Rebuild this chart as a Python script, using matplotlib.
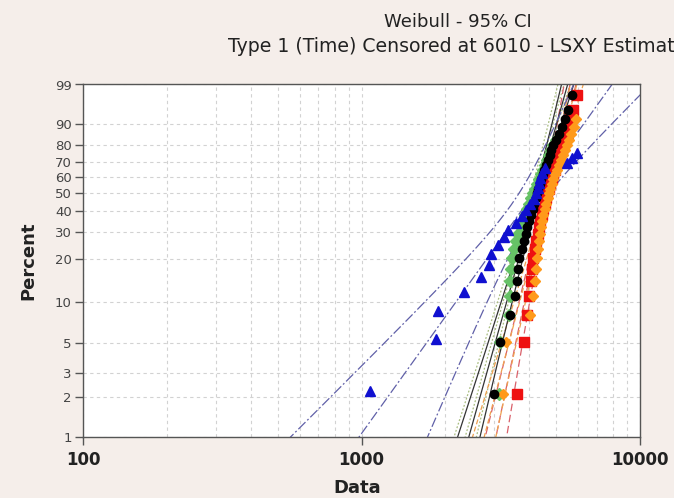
"""
Weibull probability plot, several groups, 95% CI bands
"""

import numpy as np
import matplotlib

matplotlib.use("Agg")
import matplotlib.pyplot as plt
from matplotlib.ticker import FixedLocator, NullFormatter

# failure times, the rest of each group is censored at 6010
black_times = [2990, 3140, 3410, 3560, 3620, 3650, 3680, 3770, 3830, 3900, 3930,
               3990, 4060, 4130, 4160, 4230, 4270, 4300, 4380, 4410, 4490, 4520,
               4600, 4670, 4750, 4790, 4870, 4990, 5120, 5250, 5380, 5510, 5700]
red_times = [3620, 3830, 3930, 3990, 4060, 4095, 4130, 4200, 4230, 4300, 4340,
             4375, 4450, 4485, 4560, 4600, 4640, 4710, 4750, 4830, 4870, 4950,
             4990, 5080, 5160, 5250, 5290, 5380, 5470, 5510, 5610, 5750, 5940]
green_times = [3110, 3140, 3380, 3400, 3420, 3440, 3470, 3530, 3600, 3660, 3730,
               3800, 3865, 3930, 3995, 4060, 4130, 4200, 4270, 4340, 4410, 4490,
               4560, 4640, 4710, 4790, 4870, 4990]
blue_times = [1070, 1850, 1880, 2330, 2690, 2870, 2920, 3090, 3250, 3360, 3590,
              3770, 3900, 4030, 4160, 4230, 4300, 4340, 4380, 4450, 4560, 5470,
              5700, 5940]
orange_times = [3220, 3300, 4030, 4130, 4200, 4230, 4270, 4300, 4340, 4380, 4410,
                4450, 4490, 4560, 4600, 4670, 4710, 4750, 4830, 4870, 4950, 5035,
                5120, 5205, 5290, 5380, 5470, 5560, 5650, 5795, 5890]

group_times = [green_times, red_times, orange_times, black_times, blue_times]
group_size = [33, 33, 33, 33, 31]

# LSXY fit (shape, scale) and CI half width in log10 units: sqrt(a + b*(z - zc)^2)
fit_shape = [7.5, 10.0, 8.0, 7.5, 2.93]
fit_scale = [4352, 4813, 4900, 4484, 4710]
ci_a = [0.00012, 0.00012, 0.00014, 0.00012, 0.00267]
ci_b = [0.000088, 0.000080, 0.000095, 0.000088, 0.00361]
ci_zc = [-0.5, -0.5, -0.5, -0.5, -0.6]

pct_ticks = [1, 2, 3, 5, 10, 20, 30, 40, 50, 60, 70, 80, 90, 99]
x_major = [100, 1000, 10000]
x_minor = [200, 300, 400, 500, 600, 700, 800, 900,
           2000, 3000, 4000, 5000, 6000, 7000, 8000, 9000]

# styles
mark_color = ["#66c266", "#ee1111", "#ff9a1a", "#000000", "#1010d0"]
mark_shape = ["D", "s", "D", "o", "^"]
mark_size = [6, 6.5, 5.5, 6, 7.5]
line_color = ["#a9bd80", "#d9606a", "#eea050", "#333333", "#6060a8"]
line_style = [(0, (1.5, 1.5)), (0, (6, 3)), (0, (4, 2)), "-", (0, (8, 2, 1.5, 2))]


def weib_fwd(p):
    p = np.clip(np.asarray(p, dtype=float), 1e-9, 100 - 1e-9)
    return np.log(-np.log(1 - p / 100.0))


def weib_inv(z):
    return 100.0 * (1 - np.exp(-np.exp(np.asarray(z, dtype=float))))


bg = "#f5eeea"
fig = plt.figure(figsize=(6.74, 4.98), dpi=100, facecolor=bg)
ax = fig.add_axes([83 / 674, 1 - 437 / 498, 557 / 674, 352.5 / 498])
ax.set_facecolor("white")
ax.set_xscale("log")
ax.set_yscale("function", functions=(weib_fwd, weib_inv))

z = np.linspace(-5.5, 2.3, 300)
pz = weib_inv(z)
for k in range(len(group_times)):
    xf = fit_scale[k] * np.exp(z / fit_shape[k])
    h = np.sqrt(ci_a[k] + ci_b[k] * (z - ci_zc[k]) ** 2)
    for xs in (xf, xf * 10 ** (-h), xf * 10 ** h):
        ax.plot(xs, pz, color=line_color[k], ls=line_style[k], lw=0.9, zorder=2)

for k in range(len(group_times)):
    t = np.array(group_times[k])
    i = np.arange(1, t.size + 1)
    rank = 100.0 * (i - 0.3) / (group_size[k] + 0.4)
    ax.plot(t, rank, ls="none", marker=mark_shape[k], ms=mark_size[k],
            color=mark_color[k], mec=mark_color[k], zorder=3 + k)

ax.set_xlim(100, 10000)
ax.set_ylim(1, 99)
ax.xaxis.set_major_locator(FixedLocator(x_major))
ax.xaxis.set_minor_locator(FixedLocator(x_minor))
ax.xaxis.set_minor_formatter(NullFormatter())
ax.set_xticklabels(["100", "1000", "10000"])
ax.yaxis.set_major_locator(FixedLocator(pct_ticks))
ax.yaxis.set_minor_locator(FixedLocator([]))
ax.set_yticklabels([str(v) for v in pct_ticks])

ax.grid(which="both", axis="x", color="#d2d2d2", ls=(0, (3, 3)), lw=0.8, zorder=0)
ax.grid(which="major", axis="y", color="#d2d2d2", ls=(0, (3, 3)), lw=0.8, zorder=0)
ax.tick_params(axis="x", which="major", length=6, width=1, color="#555555",
               labelsize=12, pad=4)
ax.tick_params(axis="x", which="minor", length=0)
ax.tick_params(axis="y", length=6, width=1, color="#555555", labelsize=9.5,
               labelcolor="#444444", pad=2)
for lab in ax.get_xticklabels():
    lab.set_fontweight("bold")
    lab.set_color("#222222")
for s in ax.spines.values():
    s.set_color("#555555")
    s.set_linewidth(1)

# the second title line runs past the right edge, as in the cropped original
fig.text(458 / 674, 1 - 22 / 498, "Weibull - 95% CI", ha="center", va="center",
         fontsize=13, color="#222222")
fig.text(228 / 674, 1 - 47 / 498, "Type 1 (Time) Censored at 6010 - LSXY Estimates",
         ha="left", va="center", fontsize=13.6, color="#222222")
fig.text(28 / 674, 1 - 261 / 498, "Percent", rotation=90, ha="center", va="center",
         fontsize=13, fontweight="bold", color="#222222")
fig.text(357 / 674, 1 - 488 / 498, "Data", ha="center", va="center",
         fontsize=13, fontweight="bold", color="#222222")

fig.savefig("out.png", dpi=100, facecolor=bg)
